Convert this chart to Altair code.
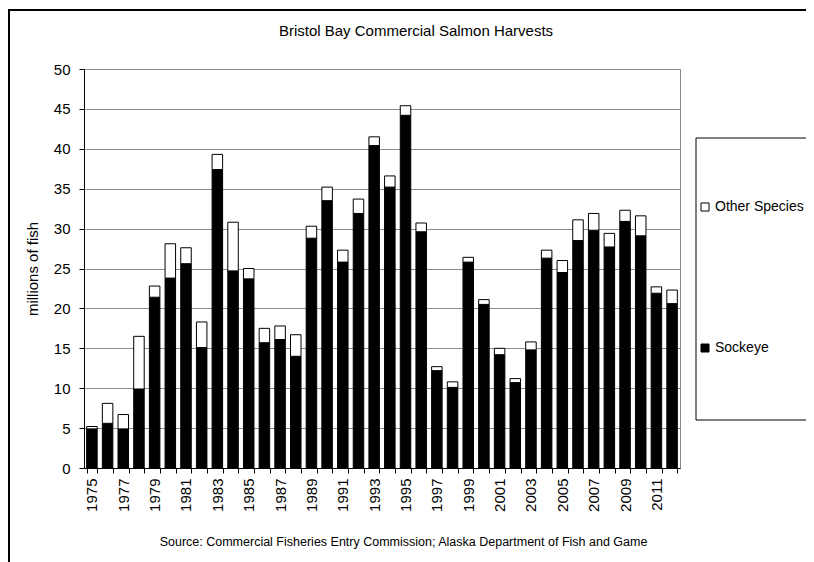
import altair as alt
import pandas as pd

years = list(range(1975, 2013))
sockeye = [4.9, 5.6, 4.9, 9.9, 21.4, 23.8, 25.6, 15.1, 37.4, 24.7,
           23.7, 15.7, 16.1, 14.0, 28.8, 33.5, 25.8, 31.9, 40.4, 35.2,
           44.2, 29.6, 12.2, 10.1, 25.8, 20.5, 14.2, 10.7, 14.8, 26.3,
           24.5, 28.5, 29.8, 27.7, 30.9, 29.1, 21.9, 20.6]
other = [0.3, 2.5, 1.8, 6.6, 1.4, 4.3, 2.0, 3.2, 1.9, 6.1,
         1.3, 1.8, 1.7, 2.7, 1.5, 1.7, 1.5, 1.8, 1.1, 1.4,
         1.2, 1.1, 0.5, 0.7, 0.6, 0.6, 0.8, 0.5, 1.0, 1.0,
         1.5, 2.6, 2.1, 1.7, 1.4, 2.5, 0.8, 1.7]
series = ["Other Species", "Sockeye"]
y_ticks = list(range(0, 55, 5))
title_text = "Bristol Bay Commercial Salmon Harvests"
source_text = "Source: Commercial Fisheries Entry Commission; Alaska Department of Fish and Game"

rows = []
for yr, s, o in zip(years, sockeye, other):
    rows.append({"year": yr, "species": "Sockeye", "harvest": s, "order": 0})
    rows.append({"year": yr, "species": "Other Species", "harvest": o, "order": 1})
df = pd.DataFrame(rows)

FONT = "Liberation Sans"

bars = alt.Chart(df).mark_bar(stroke="black", strokeWidth=1).encode(
    x=alt.X(
        "year:O",
        scale=alt.Scale(paddingInner=0.33, paddingOuter=0.17),
        axis=alt.Axis(
            title=source_text,
            titleFont=FONT, titleFontSize=12.5, titleFontWeight="normal", titleColor="black",
            titleX=319, titleY=73, titleAlign="center", titleBaseline="middle",
            labelAngle=270, labelFont=FONT, labelFontSize=15, labelColor="black",
            labelExpr="datum.value % 2 == 1 ? datum.label : ''",
            labelOverlap=False, labelPadding=5,
            tickBand="extent", tickSize=5, tickColor="black",
            domainColor="black", grid=False,
        ),
    ),
    y=alt.Y(
        "harvest:Q",
        stack="zero",
        scale=alt.Scale(domain=[0, 50]),
        axis=alt.Axis(
            values=y_ticks, title="millions of fish",
            titleFont=FONT, titleFontSize=15, titleFontWeight="normal", titleColor="black",
            titleX=-52, titleY=199.5, titleAngle=270, titleAlign="center", titleBaseline="middle",
            labelFont=FONT, labelFontSize=15, labelColor="black", labelPadding=9,
            tickSize=5, tickColor="black", domainColor="black",
            grid=True, gridColor="#8c8c8c", gridWidth=1,
        ),
    ),
    color=alt.Color(
        "species:N",
        scale=alt.Scale(domain=series, range=["white", "black"]),
        legend=alt.Legend(
            title=None, orient="none", legendX=614, legendY=131,
            symbolType="square", symbolSize=64, symbolStrokeColor="black",
            symbolStrokeWidth=1, symbolOpacity=1,
            labelFont=FONT, labelFontSize=14, labelColor="black",
            labelOffset=3, rowPadding=127, padding=0,
        ),
    ),
    order=alt.Order("order:Q", sort="ascending"),
)

one = pd.DataFrame({"k": [0]})
frame = alt.Chart(one).mark_rect(fill="white", fillOpacity=0, stroke="black", strokeWidth=2).encode(
    x=alt.value(-75), x2=alt.value(900), y=alt.value(-59), y2=alt.value(700)
)
legend_box = alt.Chart(one).mark_rect(fill="white", fillOpacity=0, stroke="black", strokeWidth=1).encode(
    x=alt.value(612), x2=alt.value(900), y=alt.value(69), y2=alt.value(351)
)
title = alt.Chart(pd.DataFrame({"t": [title_text]})).mark_text(
    font=FONT, fontSize=15, color="black", align="center", baseline="alphabetic"
).encode(text="t:N", x=alt.value(332), y=alt.value(-33))

chart = alt.layer(frame, legend_box, title, bars).properties(
    width=596,
    height=399,
    autosize=alt.AutoSizeParams(type="none"),
    padding={"left": 76, "top": 61, "right": 126, "bottom": 94},
    background="white",
).configure_view(stroke="#888888", strokeWidth=1)

chart.save("out.html", embed_options={"renderer": "svg", "actions": False})
